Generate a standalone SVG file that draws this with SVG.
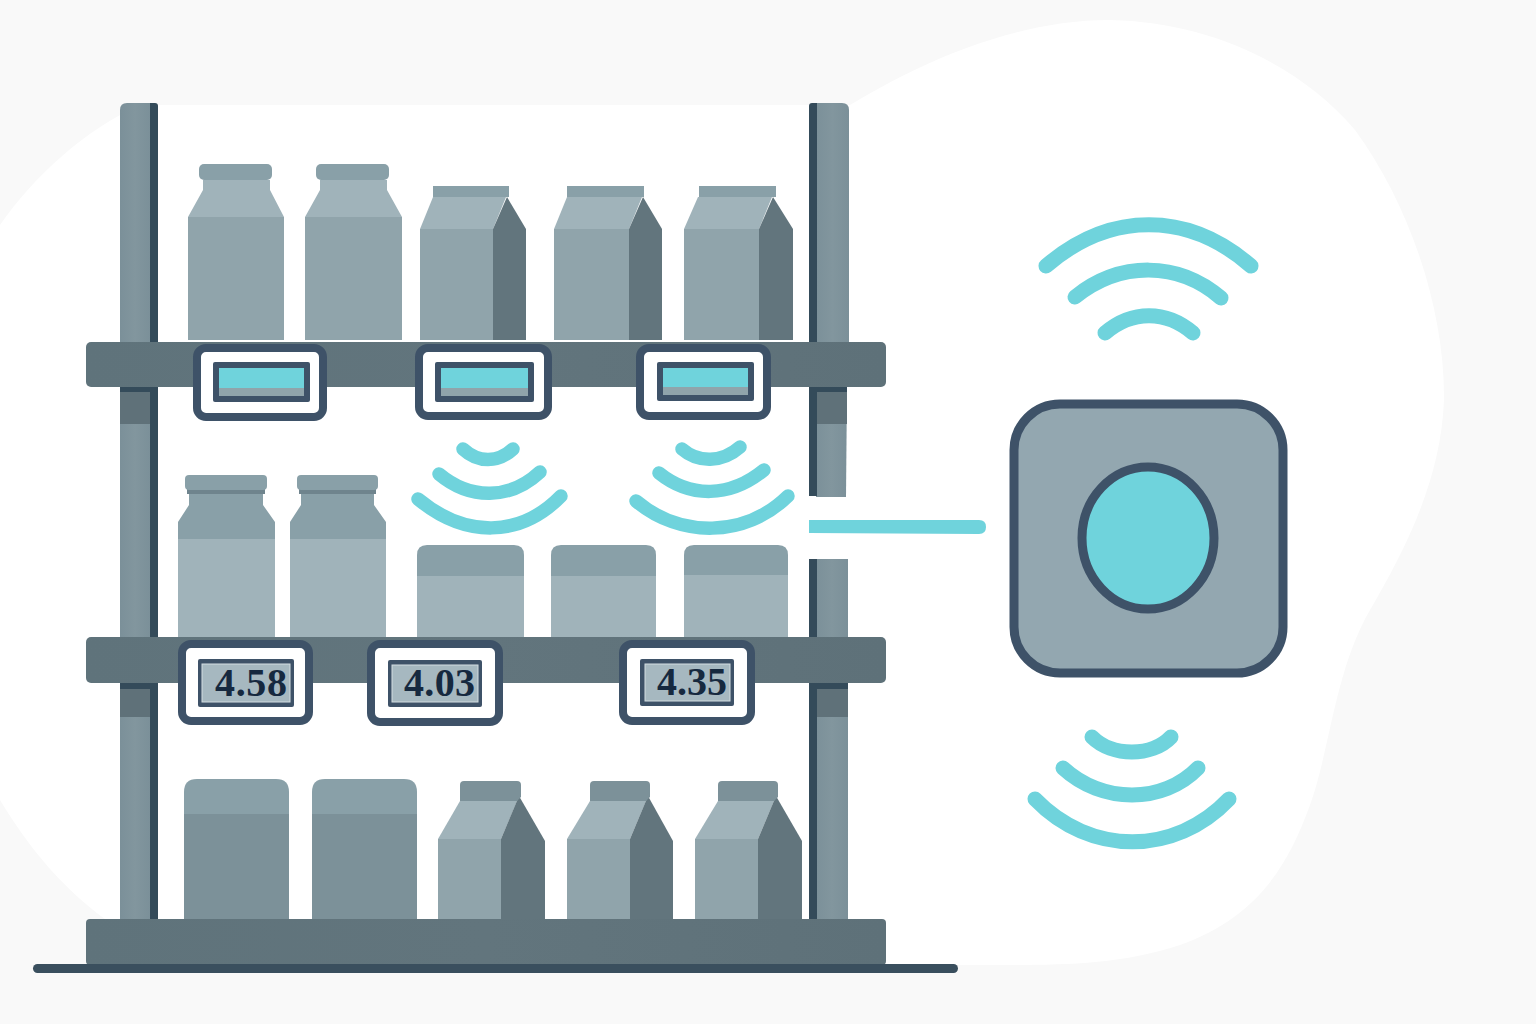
<svg xmlns="http://www.w3.org/2000/svg" width="1536" height="1024" viewBox="0 0 1536 1024">
<defs>
<linearGradient id="postFill" x1="0" x2="1" y1="0" y2="0">
<stop offset="0" stop-color="#7b9099"/>
<stop offset=".5" stop-color="#82969e"/>
<stop offset="1" stop-color="#7b9099"/>
</linearGradient>
<linearGradient id="boardFill" x1="0" x2="1" y1="0" y2="0">
<stop offset="0" stop-color="#5f737b"/>
<stop offset=".5" stop-color="#62757d"/>
<stop offset="1" stop-color="#5e7179"/>
</linearGradient>
</defs>
<style>
.post{fill:url(#postFill)}
.postdark{fill:#344b5a}
.postshade{fill:#5f7179}
.board{fill:url(#boardFill)}
.body1{fill:#90a4ab}
.body2{fill:#a0b3ba}
.cap{fill:#89a0a8}
.collar{fill:#6f848d}
.side{fill:#62757d}
.body3{fill:#7c9199}
.frame{fill:#fff;stroke:#3e5268;stroke-width:8}
.screen{fill:#3e5268}
.lcd{fill:#a6b8c0;stroke:#d3dde1;stroke-width:1}
.teal{fill:#6fd3dc}
.wave{fill:none;stroke:#6fd3dc;stroke-linecap:round;stroke-width:15}
.wave-sm{stroke-width:13.5}
.price{font-family:"Liberation Serif","DejaVu Serif",serif;font-size:40px;font-weight:700;fill:#16293f}
</style>
<rect width="1536" height="1024" fill="#f9f9f9"/>
<path d="M0 225C35 175 85 130 140 105H850C900 75 1000 20 1110 20C1210 22 1300 65 1355 130C1410 205 1445 310 1444 400C1441 480 1405 550 1370 610C1335 670 1330 750 1310 805C1285 875 1250 920 1180 945C1120 965 1060 965 1000 965H105V919C65 890 30 850 0 800Z" fill="#fff"/>

<g id="uprights">
<path class="post" d="M120 110Q120 103 127 103H150V342H120Z"/>
<path class="postdark" d="M150 103H155Q158 103 158 106V342H150Z"/>
<rect class="post" x="120" y="386" width="30" height="534"/>
<rect class="postshade" x="120" y="386" width="32" height="38"/>
<rect class="postshade" x="120" y="683" width="32" height="34"/>
<rect class="postdark" x="150" y="386" width="8" height="534"/>
<rect class="postdark" x="120" y="386" width="30" height="6"/>
<rect class="postdark" x="120" y="683" width="30" height="6"/>
<path class="post" d="M816 103H842Q849 103 849 110V342H816Z"/>
<path class="postdark" d="M809 106Q809 103 812 103H817V342H809Z"/>
<path class="post" d="M816 386H847L846 497H816Z"/>
<rect class="postshade" x="816" y="386" width="31" height="38"/>
<rect class="postdark" x="816" y="386" width="31" height="6"/>
<rect class="postdark" x="809" y="386" width="8" height="110"/>
<rect class="post" x="816" y="559" width="32" height="361"/>
<rect class="postshade" x="816" y="683" width="32" height="34"/>
<rect class="postdark" x="816" y="683" width="32" height="6"/>
<rect class="postdark" x="809" y="559" width="8" height="361"/>
</g>

<g id="top-shelf-goods">
<path class="body2" d="M203 180H270V190L284 217H188L203 190Z"/>
<rect class="body1" x="188" y="217" width="96" height="123"/>
<rect class="cap" x="199" y="164" width="73" height="16" rx="5"/>
<path class="body2" d="M320 180H387V190L402 217H305L320 190Z"/>
<rect class="body1" x="305" y="217" width="97" height="123"/>
<rect class="cap" x="316" y="164" width="73" height="16" rx="5"/>
<path class="body2" d="M433 197H506L493 229H420Z"/>
<rect class="body1" x="420" y="229" width="73" height="111"/>
<path class="side" d="M507 197L526 229V340H493V229Z"/>
<rect class="cap" x="433" y="186" width="76" height="11"/>
<path class="body2" d="M567 197H642L629 229H554Z"/>
<rect class="body1" x="554" y="229" width="75" height="111"/>
<path class="side" d="M643 197L662 229V340H629V229Z"/>
<rect class="cap" x="567" y="186" width="77" height="11"/>
<path class="body2" d="M698 197H772L759 229H684Z"/>
<rect class="body1" x="684" y="229" width="75" height="111"/>
<path class="side" d="M773 197L793 229V340H759V229Z"/>
<rect class="cap" x="699" y="186" width="77" height="11"/>
</g>

<g id="middle-shelf-goods">
<rect class="body2" x="178" y="539" width="97" height="98"/>
<path class="cap" d="M189 494H263V505L275 522V539H178V522L189 505Z"/>
<rect class="collar" x="187" y="488" width="78" height="6"/>
<rect class="cap" x="185" y="475" width="82" height="15" rx="4"/>
<rect class="body2" x="290" y="539" width="96" height="98"/>
<path class="cap" d="M301 494H374V505L386 522V539H290V522L301 505Z"/>
<rect class="collar" x="299" y="488" width="77" height="6"/>
<rect class="cap" x="297" y="475" width="81" height="15" rx="4"/>
<path class="body2" d="M417 576H524V637H417Z"/>
<path class="cap" d="M417 576V555Q417 545 427 545H514Q524 545 524 555V576Z"/>
<path class="body2" d="M551 576H656V637H551Z"/>
<path class="cap" d="M551 576V555Q551 545 561 545H646Q656 545 656 555V576Z"/>
<path class="body2" d="M684 575H788V637H684Z"/>
<path class="cap" d="M684 575V555Q684 545 694 545H778Q788 545 788 555V575Z"/>
</g>

<g id="bottom-shelf-goods">
<path class="body3" d="M184 814H289V920H184Z"/>
<path class="cap" d="M184 814V792Q184 779 197 779H276Q289 779 289 792V814Z"/>
<path class="body3" d="M312 814H417V920H312Z"/>
<path class="cap" d="M312 814V792Q312 779 325 779H404Q417 779 417 792V814Z"/>
<path class="body2" d="M460 801H517L501 839H438Z"/>
<rect class="body1" x="438" y="839" width="63" height="81"/>
<path class="side" d="M519 796L545 841V920H501V839Z"/>
<path class="body3" d="M460 785Q460 781 464 781H517Q521 781 521 785V797L517 801H460Z"/>
<path class="body2" d="M590 801H646L630 839H567Z"/>
<rect class="body1" x="567" y="839" width="63" height="81"/>
<path class="side" d="M648 796L673 841V920H630V839Z"/>
<path class="body3" d="M590 785Q590 781 594 781H646Q650 781 650 785V797L646 801H590Z"/>
<path class="body2" d="M718 801H774L758 839H695Z"/>
<rect class="body1" x="695" y="839" width="63" height="81"/>
<path class="side" d="M776 796L802 841V920H758V839Z"/>
<path class="body3" d="M718 785Q718 781 722 781H774Q778 781 778 785V797L774 801H718Z"/>
</g>

<g id="shelves">
<rect class="board" x="86" y="342" width="800" height="45" rx="5"/>
<rect class="board" x="86" y="637" width="800" height="46" rx="5"/>
<rect class="board" x="86" y="919" width="800" height="46" rx="4"/>
<rect x="33" y="964" width="925" height="9" rx="4.5" fill="#3a4f5e"/>
</g>

<g id="tag-top-1">
<rect class="frame" x="197" y="348" width="126" height="69" rx="9"/>
<rect class="screen" x="213" y="362" width="97" height="40" rx="2"/>
<rect class="body1" x="219" y="368" width="85" height="28"/>
<rect class="teal" x="219" y="368" width="85" height="20"/>
</g>
<g id="tag-top-2">
<rect class="frame" x="419" y="348" width="129" height="68" rx="9"/>
<rect class="screen" x="435" y="362" width="99" height="40" rx="2"/>
<rect class="body1" x="441" y="368" width="87" height="28"/>
<rect class="teal" x="441" y="368" width="87" height="20"/>
</g>
<g id="tag-top-3">
<rect class="frame" x="640" y="348" width="127" height="68" rx="9"/>
<rect class="screen" x="657" y="362" width="97" height="39" rx="2"/>
<rect class="body1" x="663" y="368" width="85" height="27"/>
<rect class="teal" x="663" y="368" width="85" height="19"/>
</g>

<g id="tag-price-1">
<rect class="frame" x="182" y="644" width="127" height="77" rx="9"/>
<rect class="screen" x="198" y="659" width="96" height="48" rx="2"/>
<rect class="lcd" x="202" y="664" width="88" height="38"/>
<text class="price" x="215" y="696" textLength="72">4.58</text>
</g>
<g id="tag-price-2">
<rect class="frame" x="371" y="644" width="128" height="78" rx="9"/>
<rect class="screen" x="388" y="660" width="94" height="47" rx="2"/>
<rect class="lcd" x="392" y="665" width="86" height="37"/>
<text class="price" x="404" y="696" textLength="71">4.03</text>
</g>
<g id="tag-price-3">
<rect class="frame" x="623" y="644" width="128" height="77" rx="9"/>
<rect class="screen" x="640" y="659" width="94" height="47" rx="2"/>
<rect class="lcd" x="645" y="664" width="85" height="37"/>
<text class="price" x="657" y="695" textLength="70">4.35</text>
</g>

<g id="hub">
<rect x="1014" y="404" width="269" height="269" rx="46" fill="#93a7b0" stroke="#3e5268" stroke-width="9"/>
<ellipse cx="1148" cy="538" rx="66" ry="71" fill="#6fd3dc" stroke="#3e5268" stroke-width="9"/>
</g>

<g id="connectors">
<path d="M809 520H979Q986 520 986 527Q986 534 979 534L809 533Z" class="teal"/>
<g id="waves-top">
<path class="wave" d="M1046 266C1110 211 1188 211 1251 266"/>
<path class="wave" d="M1075 297C1120 261 1178 261 1221 298"/>
<path class="wave" d="M1105 333C1132 310 1166 310 1193 333"/>
</g>
<g id="waves-bottom">
<path class="wave" d="M1092 737C1112 757 1152 757 1171 737"/>
<path class="wave" d="M1063 768C1102 804 1163 804 1198 768"/>
<path class="wave" d="M1035 799C1090 856 1175 856 1229 799"/>
</g>
<g id="waves-shelf-left">
<path class="wave wave-sm" d="M463 449C478 463 498 463 513 449"/>
<path class="wave wave-sm" d="M439 474C470 500 510 500 540 472"/>
<path class="wave wave-sm" d="M418 499C465 538 520 538 561 496"/>
</g>
<g id="waves-shelf-right">
<path class="wave wave-sm" d="M682 449C698 463 722 463 740 447"/>
<path class="wave wave-sm" d="M659 473C690 498 730 498 764 470"/>
<path class="wave wave-sm" d="M636 501C680 538 745 538 788 496"/>
</g>
</g>
</svg>
